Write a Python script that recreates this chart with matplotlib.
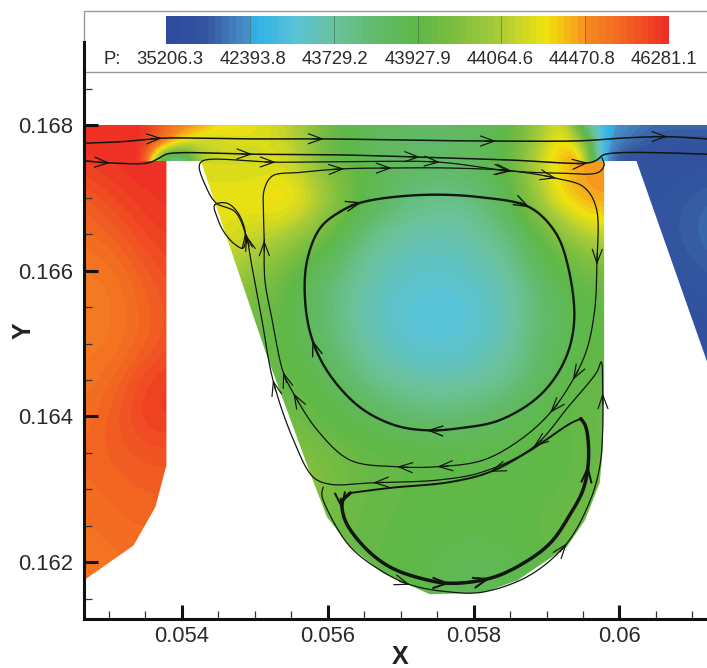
import numpy as np
import matplotlib
matplotlib.use("Agg")
import matplotlib.pyplot as plt
from matplotlib.colors import LinearSegmentedColormap
from matplotlib.patches import Polygon, Rectangle

plt.rcParams['font.family'] = ['Liberation Sans', 'DejaVu Sans']

# ---- legend ----
legend_levels = [35206.3, 42393.8, 43729.2, 43927.9, 44064.6, 44470.8, 46281.1]
legend_labels = ["35206.3", "42393.8", "43729.2", "43927.9", "44064.6", "44470.8", "46281.1"]

# ---- pressure fields, coordinates in mm ----
strip_x0, strip_dx = 52.75, 0.25
strip_y = [168.0, 167.75, 167.5]
strip_p = [
 [46281,46281,46281,46200,45200,44800,44500,44300,44300,44250,44200,44100,44030,43960,43930,43900,43880,43870,43860,43860,43870,43880,43900,43940,44000,44100,44250,43800,42700,42000,41000,40000,40000,40000,40000],
 [46281,46281,46281,46100,45300,44300,44100,44150,44200,44200,44200,44120,44040,43960,43930,43890,43860,43840,43830,43830,43840,43860,43890,43940,44020,44180,44330,44200,42600,41000,39500,38500,38000,38000,38000],
 [46000,46200,46281,46281,43400,42800,44100,44180,44180,44160,44250,44180,44050,43960,43930,43900,43870,43860,43850,43850,43860,43870,43900,43950,44050,44250,44420,44500,42500,38000,37000,37000,37000,37000,37000],
]
cav_x = [54.0,54.5,55.0,55.5,56.0,56.5,57.0,57.5,58.0,58.5,59.0,59.5,60.0]
cav_y = [167.5,167.0,166.5,166.0,165.5,165.0,164.5,164.0,163.5,163.0,162.5,162.0,161.5]
cav_p = [
 [44180,44180,44170,44180,43960,43900,43860,43850,43870,43950,44250,44500,44450],
 [44280,44280,44290,44400,44080,43930,43820,43760,43790,43900,44250,44520,44480],
 [44250,44250,44160,44090,43950,43780,43580,43500,43620,43800,43960,44120,44200],
 [44100,44100,44030,43940,43840,43640,43360,43250,43380,43700,43900,43960,43980],
 [44000,44000,43970,43920,43800,43500,43120,43000,43120,43520,43840,43930,43940],
 [43950,43950,43950,43930,43830,43600,43240,43080,43240,43640,43860,43930,43940],
 [43960,43960,43960,43940,43900,43780,43640,43550,43620,43760,43890,43940,43950],
 [44000,44000,44000,43960,43930,43890,43840,43800,43830,43890,43930,43950,43960],
 [44050,44050,44050,44000,43970,43950,43940,43930,43920,43920,43930,43940,43960],
 [44100,44100,44100,44060,43980,43950,43940,43935,43930,43930,43930,43950,43970],
 [44050,44050,44050,44020,43960,43945,43935,43930,43920,43930,43950,43970,43980],
 [44050,44050,44050,44020,43960,43945,43930,43900,43880,43900,43930,43950,43980],
 [44050,44050,44050,44020,43960,43945,43930,43900,43880,43900,43930,43950,43990],
]
left_x = [52.5,53.0,53.5,54.0]
left_y = cav_y
left_p = [
 [46000,46200,46281,46281],
 [45300,45800,46150,46200],
 [45100,45300,45900,46100],
 [44900,44900,45500,45900],
 [44800,44800,45300,45700],
 [44850,44850,45300,45800],
 [44900,45100,45900,46100],
 [45000,45400,46000,46100],
 [45200,45400,45600,45600],
 [45150,45250,45400,45400],
 [45000,45150,45250,45250],
 [44900,45000,45100,45100],
 [44900,45000,45100,45100],
]
right_x = [60.0,60.5,61.0,61.5]
right_y = [167.5,167.0,166.5,166.0,165.5,165.0,164.5]
right_p = [
 [38000,37500,37500,37500],
 [37500,38000,39000,40000],
 [37500,38000,39500,40500],
 [37500,37500,38500,39500],
 [37500,37500,37500,38000],
 [37000,37000,37000,37000],
 [37000,37000,37000,37000],
]

# ---- region outlines (mm) ----
left_outline = ([52.6,53.79,53.79,53.64,53.34,52.6],[167.6,167.6,163.33,162.76,162.23,161.71])
strip_outline = ([52.6,61.3,61.3,52.6],[167.51,167.51,168.0,168.0])
cav_outline = ([54.23,59.79,59.79,59.77,59.73,59.53,59.28,58.60,58.13,57.40,56.76,56.31,55.99,55.76,55.14],
               [167.6,167.6,164.50,163.54,163.09,162.58,162.21,161.75,161.58,161.56,161.85,162.21,162.62,163.22,164.91])
right_outline = ([60.23,61.3,61.3,60.2],[167.51,167.51,164.47,167.6])

# ---- streamlines (mm): x, y, indices of arrowheads, width ----
s1 = ([52.66,53.16,53.73,54.25,54.94,55.95,57.27,58.31,59.32,59.60,60.01,60.66,61.20],
      [167.75,167.77,167.82,167.82,167.81,167.81,167.79,167.78,167.78,167.79,167.82,167.84,167.81],[2,5,7,11],1.1)
s2 = ([52.66,53.02,53.54,53.66,53.79,53.98,54.97,56.17,57.27,58.50,59.57,59.69,59.78,60.01,60.55,61.20],
      [167.51,167.48,167.48,167.53,167.60,167.62,167.60,167.59,167.56,167.52,167.48,167.52,167.59,167.62,167.62,167.60],[1,6,8,10],1.1)
s3 = ([55.94,55.92,56.03,56.31,56.72,57.13,57.68,58.13,58.77,59.28,59.60,59.73,59.77,59.77,59.75,59.69,59.32,58.82,58.13,57.54,56.62,56.03,55.80,55.53,55.25,55.10,54.97,54.88,54.73,54.47,54.32,54.24,54.29,55.29,56.45,57.54,58.50,59.18,59.71,59.79,59.76],
      [163.03,162.93,162.65,162.21,161.89,161.69,161.59,161.59,161.82,162.26,162.85,163.31,163.81,164.32,164.75,164.61,164.16,163.58,163.24,163.13,163.09,163.07,163.17,163.68,164.50,165.32,166.01,166.49,166.81,166.93,167.18,167.44,167.51,167.49,167.50,167.49,167.37,167.34,167.35,167.45,167.55],
      [5,9,13,17,20,24,27,33,35,36],0.9)
s4 = ([55.13,55.12,55.13,55.24,55.62,56.23,56.88,57.68,58.53,59.13,59.51,59.68,59.69,59.66,59.55,59.36,59.05,58.64,58.13,57.50,56.95,56.31,55.86,55.53,55.39,55.24,55.14,55.13],
      [166.42,166.83,167.11,167.30,167.35,167.40,167.41,167.41,167.37,167.27,167.15,166.87,166.08,165.46,164.91,164.50,164.05,163.68,163.40,163.31,163.31,163.40,163.81,164.32,164.61,165.32,165.87,166.42],
      [5,6,8,9,12,15,16,19,20,23,24,27],0.9)
s5 = ([56.17,56.47,57.27,58.09,58.77,59.12,59.29,59.38,59.25,58.91,58.36,57.82,57.36,56.92,56.45,56.03,55.79,55.69,55.72,55.90,56.17],
      [166.81,166.94,167.04,167.01,166.87,166.53,166.08,165.32,164.77,164.29,163.95,163.84,163.81,163.88,164.12,164.57,165.05,165.60,166.15,166.59,166.81],[1,4,12,16],1.7)
s6a = ([56.31,56.21,56.20,56.27,56.54,56.86,57.27,57.68,58.23,58.64,59.05,59.32,59.50,59.57,59.57,59.53,59.47],
       [162.95,162.85,162.72,162.51,162.17,161.93,161.78,161.71,161.78,161.96,162.26,162.65,162.99,163.33,163.68,163.88,163.97],[2,7,8,13],2.5)
s6b = ([59.47,59.32,58.77,58.23,57.68,56.86,56.31],
       [163.97,163.90,163.53,163.24,163.10,163.02,162.95],[3],1.4)
s7 = ([54.45,54.49,54.58,54.72,54.84,54.87,54.76,54.61,54.45],
      [166.90,166.72,166.53,166.37,166.31,166.53,166.81,166.93,166.90],[5],0.9)
streamlines = [s1,s2,s3,s4,s5,s6a,s6b,s7]

# ---- colours along the legend bar ----
stops = [(0.0,'#2f4c9f'),(0.45,'#34569f'),(0.8,'#4381bf'),(0.98,'#4b93c9'),(1.02,'#2fb1e8'),(1.5,'#58c2d9'),
         (2.0,'#6cc39d'),(2.5,'#62bb6a'),(3.0,'#5eb848'),(3.5,'#80bf41'),(4.0,'#a9cc39'),(4.55,'#f0e30f'),
         (4.95,'#f7a21c'),(5.05,'#f58a20'),(5.5,'#f26522'),(6.0,'#ee3124')]
cmap = LinearSegmentedColormap.from_list('p', [(a/6,c) for a,c in stops], N=72)
pos_ticks = np.arange(7)

def to_pos(p):
    return np.interp(np.asarray(p,float), legend_levels, pos_ticks)

W,H = 707,668
fig = plt.figure(figsize=(W/100,H/100), dpi=100, facecolor='white')
ax = fig.add_axes([84/W, 1-619/H, 1-84/W, (619-42)/H])
ax.patch.set_visible(False)
xlim = (0.05266, 0.0612)
ylim = (0.16122, 0.16914)

def field(xs, ys, p, outline):
    xs = np.asarray(xs)*1e-3; ys = np.asarray(ys)*1e-3
    dx = xs[1]-xs[0]; dy = abs(ys[1]-ys[0])
    im = ax.imshow(to_pos(p), extent=[xs[0]-dx/2, xs[-1]+dx/2, ys.min()-dy/2, ys.max()+dy/2],
                   origin='upper', aspect='auto', cmap=cmap, vmin=0, vmax=6,
                   interpolation='bicubic', zorder=1)
    poly = Polygon(np.column_stack(outline)*1e-3, closed=True, transform=ax.transData, fc='none', ec='none')
    ax.add_patch(poly)
    im.set_clip_path(poly)

field(left_x, left_y, left_p, left_outline)
field(cav_x, cav_y, cav_p, cav_outline)
field(right_x, right_y, right_p, right_outline)
field([strip_x0+i*strip_dx for i in range(len(strip_p[0]))], strip_y, strip_p, strip_outline)

N_SEG = 14
def smooth(x, y, n=N_SEG):
    """Centripetal Catmull-Rom drawing of a streamline through the read points."""
    pts = np.column_stack([x,y],)*1e-3
    closed = np.allclose(pts[0],pts[-1])
    if closed:
        P = np.vstack([pts[-2],pts,pts[1]])
    else:
        P = np.vstack([2*pts[0]-pts[1],pts,2*pts[-1]-pts[-2]])
    out=[]
    for i in range(1,len(P)-2):
        p0,p1,p2,p3=P[i-1],P[i],P[i+1],P[i+2]
        t0=0.0
        t1=t0+np.linalg.norm(p1-p0)**0.5
        t2=t1+np.linalg.norm(p2-p1)**0.5
        t3=t2+np.linalg.norm(p3-p2)**0.5
        t=np.linspace(t1,t2,n,endpoint=False)[:,None]
        a1=(t1-t)/(t1-t0)*p0+(t-t0)/(t1-t0)*p1
        a2=(t2-t)/(t2-t1)*p1+(t-t1)/(t2-t1)*p2
        a3=(t3-t)/(t3-t2)*p2+(t-t2)/(t3-t2)*p3
        b1=(t2-t)/(t2-t0)*a1+(t-t0)/(t2-t0)*a2
        b2=(t3-t)/(t3-t1)*a2+(t-t1)/(t3-t1)*a3
        out.append((t2-t)/(t2-t1)*b1+(t-t1)/(t2-t1)*b2)
    out.append(P[-2][None,:])
    return np.vstack(out)

for x,y,arrows,lw in streamlines:
    c = smooth(x,y)
    ax.plot(c[:,0],c[:,1],color='#11160f',lw=lw,zorder=3,solid_capstyle='round')
    for i in arrows:
        j = min(i*N_SEG, len(c)-1)
        a = c[max(j-2,0)]; b = c[min(j+2,len(c)-1)]
        d = (b-a)/np.linalg.norm(b-a)
        ax.annotate('', xy=c[j], xytext=(-d[0]*8,-d[1]*8), textcoords=('offset points'), zorder=4,
                    arrowprops=dict(arrowstyle='->,head_length=1.0,head_width=0.36', color='#11160f',
                                    lw=max(0.85,lw*0.6), shrinkA=0, shrinkB=0, mutation_scale=10))

ax.set_xlim(xlim); ax.set_ylim(ylim)
ax.set_xticks([0.054,0.056,0.058,0.06]); ax.set_xticklabels(['0.054','0.056','0.058','0.06'])
ax.set_yticks([0.162,0.164,0.166,0.168]); ax.set_yticklabels(['0.162','0.164','0.166','0.168'])
ax.set_xticks(np.array([0.053,0.0535,0.0545,0.055,0.0555,0.0565,0.057,0.0575,0.0585,0.059,0.0595,0.0605,0.061]),minor=True)
ax.set_yticks(np.array([0.1615,0.1625,0.163,0.1635,0.1645,0.165,0.1655,0.1665,0.167,0.1675,0.1685]),minor=True)
ax.tick_params(which='major',direction='in',length=10,width=2.2,labelsize=15.8,colors='#111111',labelcolor='#2a2a2a')
ax.tick_params(axis='y',which='major',pad=8)
ax.tick_params(axis='x',which='major',pad=5)
ax.tick_params(which='minor',direction='in',length=6,width=0.9,colors='#333333')
for s in ['top','right']:
    ax.spines[s].set_visible(False)
for s in ['left','bottom']:
    ax.spines[s].set_linewidth(2.2); ax.spines[s].set_color('#111111')
ax.set_zorder(2)
fig.text(400/W,1-657/H,'X',ha='center',va='center',fontsize=18,fontweight='bold',color='#222222')
fig.text(24/W,1-331/H,'Y',ha='center',va='center',rotation=90,fontsize=18,fontweight='bold',color='#222222')

# legend panel
fig.add_artist(Rectangle((84/W,1-72/H),(W-84+5)/W,61/H,transform=fig.transFigure,fc='white',ec='#9a9a9a',lw=1.0,zorder=-1))
cax = fig.add_axes([166/W,1-44/H,503/W,28/H],zorder=3)
g = np.linspace(0,6,504)[None,:]
cax.imshow(g,extent=[0,6,0,1],aspect='auto',cmap=cmap,vmin=0,vmax=6,interpolation='nearest')
for k in pos_ticks[1:-1]:
    cax.axvline(k,color='#3c6a4a',lw=0.5,alpha=0.8)
cax.axis('off')
label_px = [170,253,335,418,500,582,664]
fig.text(112/W,1-60/H,'P:',ha='center',va='center',fontsize=13.3,color='#2a2a2a')
for t,px in zip(legend_labels,label_px):
    fig.text(px/W,1-60/H,t,ha='center',va='center',fontsize=13.3,color='#2a2a2a')

fig.savefig('out.png',dpi=100)
